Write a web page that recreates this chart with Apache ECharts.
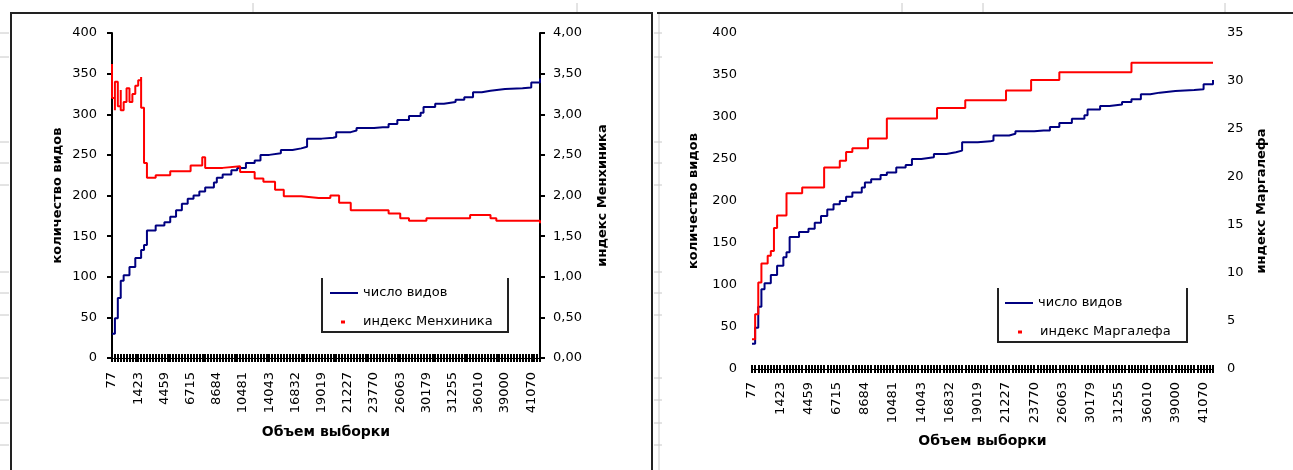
<!DOCTYPE html>
<html><head><meta charset="utf-8">
<script src="https://cdn.jsdelivr.net/npm/echarts@6/dist/echarts.min.js"></script>
<style>html,body{margin:0;padding:0;background:#fff}#c{width:1293px;height:470px}</style>
</head><body><div id="c"></div>
<script>
// ---- data ----
const xTickLabels = ['77','1423','4459','6715','8684','10481','14043','16832','19019','21227','23770','26063','30179','31255','36010','39000','41070'];
const labelStep = 9;          // one labelled category out of every 9
const categoryCount = 148;    // number of sample-size categories on the x axis
// [category index, number of species]
const speciesCount = [[0,30],[1,49],[2,74],[3,95],[4,102],[6,112],[8,123],[10,133],[11,139],[12,157],[15,163],[18,167],[20,174],[22,182],[24,190],[26,196],[28,200],[30,205],[32,210],[35,216],[36,222],[38,226],[41,231],[43,234],[46,240],[49,243],[51,250],[54,252],[58,256],[62,258],[65,260],[67,270],[72,271],[76,272],[77,278],[82,280],[84,283],[90,284],[93,284],[95,288],[98,293],[102,298],[106,302],[107,309],[111,313],[114,315],[118,318],[121,321],[124,327],[127,329],[130,331],[135,332],[141,333],[144,339],[147,344]];
// [category index, Menhinick index]
const menhinick = [[0,3.62],[0,3.2],[1,3.05],[1,3.4],[2,3.1],[3,3.3],[3,3.05],[4,3.15],[5,3.32],[6,3.15],[7,3.25],[8,3.35],[9,3.42],[10,3.46],[10,3.08],[11,2.74],[11,2.4],[12,2.22],[15,2.25],[20,2.3],[27,2.37],[31,2.47],[32,2.34],[38,2.36],[44,2.29],[49,2.21],[52,2.17],[56,2.07],[59,1.99],[65,1.97],[71,1.97],[75,2.0],[78,1.91],[82,1.82],[90,1.82],[95,1.78],[99,1.72],[102,1.69],[108,1.72],[121,1.72],[123,1.76],[130,1.72],[132,1.69],[147,1.66]];
// [category index, Margalef index]
const margalef = [[0,3.1],[1,5.7],[2,9.0],[3,11.0],[5,11.8],[6,12.3],[7,14.7],[8,16.0],[10,16.0],[11,18.3],[16,18.9],[23,21.0],[28,21.7],[30,22.6],[32,23.0],[37,24.0],[43,26.1],[59,27.2],[68,28.0],[81,29.0],[89,30.1],[98,30.9],[121,31.9],[147,31.9]];

const categories = Array.from({length: categoryCount}, (_, i) =>
  i % labelStep === 0 ? (xTickLabels[i / labelStep] || '') : '');

// ---- styling ----
const FONT = 'DejaVu Sans';
const BLUE = '#000080', RED = '#ff0000';
const lbl = {color:'#000', fontFamily: FONT, fontSize: 13};
const nameStyle = {color:'#000', fontFamily: FONT, fontSize: 13, fontWeight: 'bold'};

function xAxes(gridIndex, margin, nameGap) {
  return [{
    type:'category', gridIndex, data: categories, boundaryGap:false,
    name:'Объем выборки', nameLocation:'middle', nameGap, nameTextStyle: Object.assign({}, nameStyle, {fontSize:14}),
    axisLine:{show:true, lineStyle:{color:'#000', width:1}},
    axisTick:{show:true, interval:0, length:4, lineStyle:{color:'#000', width:2}},
    axisLabel:Object.assign({interval: labelStep-1, rotate:90, margin}, lbl),
    splitLine:{show:false}
  },{
    type:'category', gridIndex, data: categories, boundaryGap:false, position:'bottom',
    axisLine:{show:false},
    axisTick:{show:true, inside:true, interval:0, length:4, lineStyle:{color:'#000', width:2}},
    axisLabel:{show:false}, splitLine:{show:false}
  }];
}

const option = {
  animation:false,
  backgroundColor:'#fff',
  grid:[
    {left:112, right:1293-540, top:33, bottom:470-358, outerBoundsMode:'none', containLabel:false},
    {left:752, right:1293-1213, top:33, bottom:470-369, outerBoundsMode:'none', containLabel:false}
  ],
  xAxis: [...xAxes(0, 14, 67), ...xAxes(1, 13, 65)],
  yAxis: [
    {type:'value', gridIndex:0, min:0, max:400, interval:50, position:'left',
     name:'количество видов', nameLocation:'middle', nameRotate:90, nameGap:48, nameTextStyle:nameStyle,
     axisLine:{show:true, lineStyle:{color:'#000', width:2}}, axisTick:{show:true, length:5, lineStyle:{color:'#000', width:2}},
     axisLabel:Object.assign({margin:15}, lbl), splitLine:{show:false}},
    {type:'value', gridIndex:0, min:0, max:4, interval:0.5, position:'right',
     name:'индекс Менхиника', nameLocation:'middle', nameRotate:90, nameGap:56, nameTextStyle:nameStyle,
     axisLine:{show:true, lineStyle:{color:'#000', width:2}}, axisTick:{show:true, length:5, lineStyle:{color:'#000', width:2}},
     axisLabel:Object.assign({margin:13, formatter: v => v.toFixed(2).replace('.', ',')}, lbl), splitLine:{show:false}},
    {type:'value', gridIndex:1, min:0, max:400, interval:50, position:'left',
     name:'количество видов', nameLocation:'middle', nameRotate:90, nameGap:52, nameTextStyle:nameStyle,
     axisLine:{show:false}, axisTick:{show:false},
     axisLabel:Object.assign({margin:15}, lbl), splitLine:{show:false}},
    {type:'value', gridIndex:1, min:0, max:35, interval:5, position:'right',
     name:'индекс Маргалефа', nameLocation:'middle', nameRotate:90, nameGap:42, nameTextStyle:nameStyle,
     axisLine:{show:false}, axisTick:{show:false},
     axisLabel:Object.assign({margin:14}, lbl), splitLine:{show:false}}
  ],
  legend:[
    {data:['число видов'], left:330, top:286, padding:0, icon:'rect', itemWidth:28, itemHeight:2, selectedMode:false,
     textStyle:Object.assign({lineHeight:14}, lbl)},
    {data:['индекс Менхиника'], left:341, top:315, padding:0, icon:'rect', itemWidth:4, itemHeight:3, selectedMode:false,
     textStyle:Object.assign({lineHeight:14, padding:[0,0,0,13]}, lbl)},
    {data:['число видов'], left:1005, top:296, padding:0, icon:'rect', itemWidth:28, itemHeight:2, selectedMode:false,
     textStyle:Object.assign({lineHeight:14}, lbl)},
    {data:['индекс Маргалефа'], left:1018, top:325, padding:0, icon:'rect', itemWidth:4, itemHeight:3, selectedMode:false,
     textStyle:Object.assign({lineHeight:14, padding:[0,0,0,13]}, lbl)}
  ],
  series:[
    {type:'line', name:'число видов', xAxisIndex:0, yAxisIndex:0, data:speciesCount, step:'end', showSymbol:false,
     color:BLUE, lineStyle:{color:BLUE, width:2}},
    {type:'line', name:'индекс Менхиника', xAxisIndex:0, yAxisIndex:1, data:menhinick, step:'end', showSymbol:false,
     color:RED, lineStyle:{color:RED, width:2}},
    {type:'line', name:'число видов', xAxisIndex:2, yAxisIndex:2, data:speciesCount, step:'end', showSymbol:false,
     color:BLUE, lineStyle:{color:BLUE, width:2}},
    {type:'line', name:'индекс Маргалефа', xAxisIndex:2, yAxisIndex:3, data:margalef, step:'end', showSymbol:false,
     color:RED, lineStyle:{color:RED, width:2}}
  ],
  graphic:[]
};

// frames, legend boxes, spreadsheet grid remnants
const g = option.graphic;
const dark = {stroke:'#222', lineWidth:2, fill:null};
g.push({type:'polyline', shape:{points:[[11,470],[11,13],[652,13],[652,470]]}, style:dark, silent:true});
g.push({type:'line', shape:{x1:657, y1:13, x2:1293, y2:13}, style:dark, silent:true});
g.push({type:'line', shape:{x1:659, y1:14, x2:659, y2:470}, style:{stroke:'#c8c8c8', lineWidth:1}, silent:true});
g.push({type:'polyline', shape:{points:[[322,278],[322,332],[508,332],[508,278]]}, style:dark, silent:true});
g.push({type:'polyline', shape:{points:[[998,288],[998,342],[1187,342],[1187,288]]}, style:dark, silent:true});
[33,57,142,163,185,272,293,315,378,400,423,445].forEach(y => {
  g.push({type:'line', shape:{x1:0, y1:y, x2:9, y2:y}, style:{stroke:'#c8c8c8', lineWidth:1}, silent:true});
  g.push({type:'line', shape:{x1:654, y1:y, x2:662, y2:y}, style:{stroke:'#c8c8c8', lineWidth:1}, silent:true});
});
[253,577,902,983,1225].forEach(x => {
  g.push({type:'line', shape:{x1:x, y1:3, x2:x, y2:12}, style:{stroke:'#c8c8c8', lineWidth:1}, silent:true});
});

const chart = echarts.init(document.getElementById('c'), null, {renderer:'canvas'});
chart.setOption(option);
</script>
</body></html>
